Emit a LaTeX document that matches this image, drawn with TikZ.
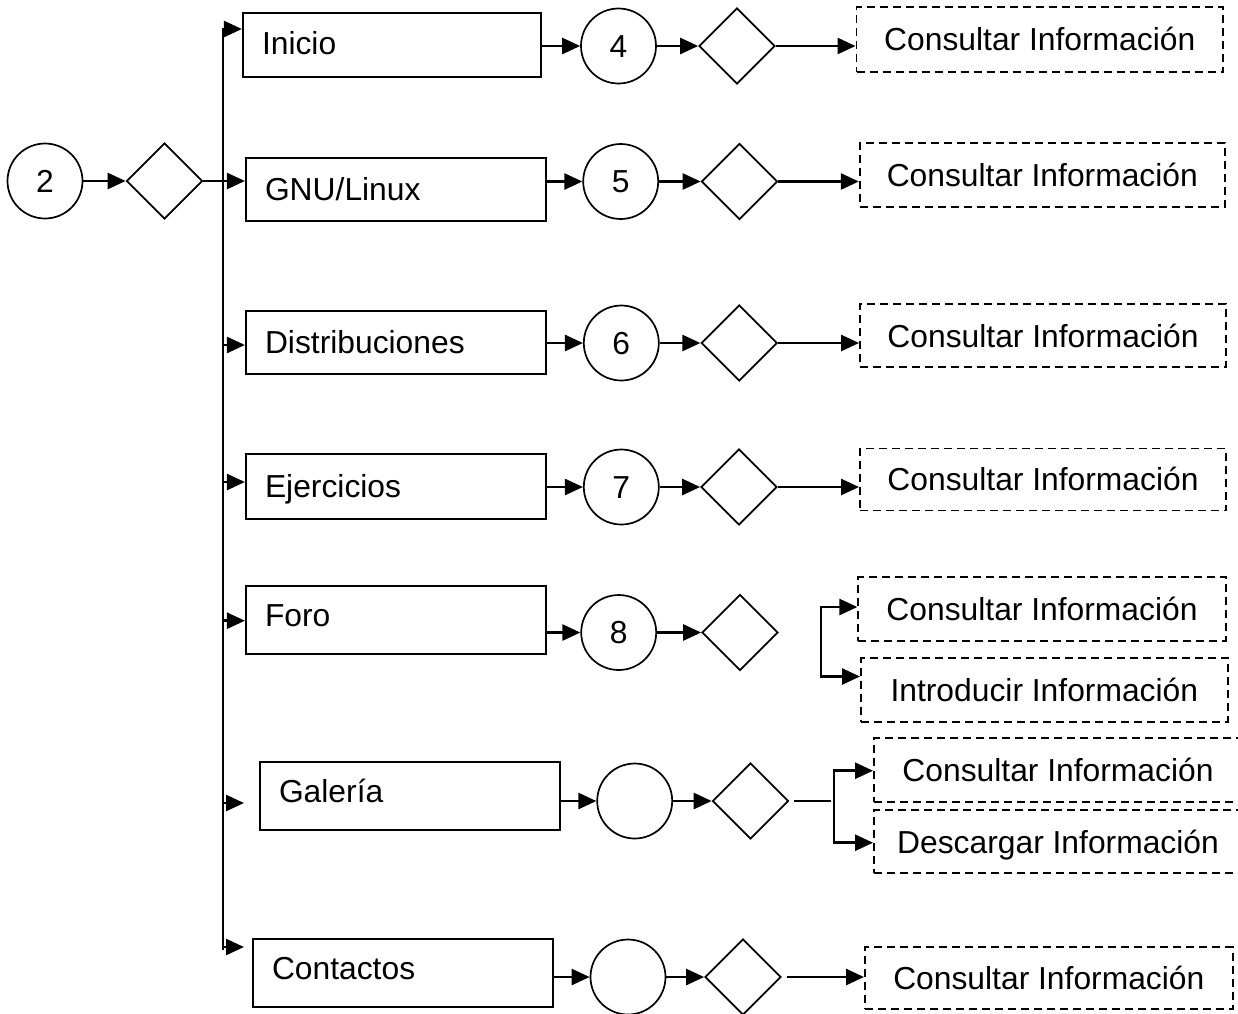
\documentclass[tikz,border=0pt]{standalone}
\usepackage{fontspec}
\setmainfont{Liberation Sans}
\usetikzlibrary{arrows.meta,shapes.geometric}

\begin{document}
\begin{tikzpicture}[x=1pt,y=-1pt,
  font=\fontsize{31.8}{38}\selectfont,
  menubox/.style={draw, rectangle, line width=2.2pt, minimum height=64pt,
    text width=262pt, align=left, inner xsep=19pt, inner ysep=0pt,
    text height=22.8pt, text depth=0pt},
  numcircle/.style={draw, circle, line width=1.7pt, minimum size=75pt,
    inner sep=0pt, text height=22.8pt, text depth=0pt},
  choice/.style={draw, diamond, line width=1.7pt, minimum width=76pt,
    minimum height=76pt, inner sep=0pt},
  infobox/.style={draw, rectangle, dash pattern=on 8pt off 5pt, line width=1.9pt,
    minimum width=366pt, minimum height=63pt, inner sep=0pt,
    text height=22.8pt, text depth=0pt},
  arr/.style={line width=2.6pt, -{Triangle[length=18pt,width=16pt]}},
  arrs/.style={line width=2.6pt,
    {Triangle[length=18pt,width=16pt]}-{Triangle[length=18pt,width=16pt]}},
  link/.style={line width=2.2pt}
]
\useasboundingbox (0,0) rectangle (1238,1013);

% entry point and first decision
\node[numcircle] (c2) at (45,181) {2};
\node[choice] (d0) at (164.5,181) {};
\draw[arr] (c2) -- (d0);

% menu entries
\node[menubox, text width=260pt, text depth=4pt] (inicio) at (392,45) {Inicio};
\node[menubox, minimum height=63pt] (gnu) at (396,189.5) {GNU/Linux};
\node[menubox, minimum height=63pt] (dist) at (396,342.5) {Distribuciones};
\node[menubox, minimum height=65pt] (ejer) at (396,486.5) {Ejercicios};
\node[menubox, minimum height=68pt, text depth=10pt] (foro) at (396,620) {Foro};
\node[menubox, minimum height=68pt, text depth=10pt] (gal) at (410,796) {Galería};
\node[menubox, minimum height=68pt, text depth=10pt] (cont) at (403,973) {Contactos};

% trunk with its branches
\coordinate (ttop) at (223,29);
\coordinate (tbot) at (223,950);
\draw[arr] (tbot) -- (ttop) -- (ttop -| inicio.west);
\draw[arr] (d0.east) -- (d0.east -| gnu.west);
\coordinate (t3) at (223,345);
\coordinate (t4) at (223,482);
\coordinate (t5) at (223,620.7);
\coordinate (t6) at (223,803);
\coordinate (g6) at (244,803);
\coordinate (t7) at (223,947);
\coordinate (g7) at (244,947);
\draw[arr] (t3) -- (t3 -| dist.west);
\draw[arr] (t4) -- (t4 -| ejer.west);
\draw[arr] (t5) -- (t5 -| foro.west);
\draw[arr] (t6) -- (g6);
\draw[arr] (t7) -- (g7);

% Inicio
\node[numcircle] (c4) at (618.5,46) {4};
\node[choice] (d1) at (737,46) {};
\node[infobox, minimum width=366.5pt, minimum height=65pt] (i1) at (1039.75,39.5) {Consultar Información};
\draw[arr] (inicio.east |- c4) -- (c4);
\draw[arr] (c4) -- (d1);
\draw[arr] (d1.east) -- (d1.east -| i1.west);

% GNU/Linux
\node[numcircle] (c5) at (620.7,181.5) {5};
\node[choice] (d2) at (739.5,181.5) {};
\node[infobox, minimum width=365pt, minimum height=64pt] (i2) at (1042.3,174.7) {Consultar Información};
\draw[arr] (gnu.east |- c5) -- (c5);
\draw[arr] (c5) -- (d2);
\draw[arr] (d2.east) -- (d2.east -| i2.west);

% Distribuciones
\node[numcircle] (c6) at (621.3,343) {6};
\node[choice] (d3) at (739.2,343) {};
\node[infobox] (i3) at (1043,335.7) {Consultar Información};
\draw[arr] (dist.east |- c6) -- (c6);
\draw[arr] (c6) -- (d3);
\draw[arr] (d3.east) -- (d3.east -| i3.west);

% Ejercicios
\node[numcircle] (c7) at (621.3,487) {7};
\node[choice] (d4) at (739,487) {};
\node[infobox, minimum height=62pt] (i4) at (1043,479.5) {Consultar Información};
\draw[arr] (ejer.east |- c7) -- (c7);
\draw[arr] (c7) -- (d4);
\draw[arr] (d4.east) -- (d4.east -| i4.west);

% Foro
\node[numcircle] (c8) at (618.7,632.5) {8};
\node[choice] (d5) at (740,632.5) {};
\node[infobox, minimum width=367.4pt, minimum height=63.4pt] (i5a) at (1042,609) {Consultar Información};
\node[infobox, minimum width=366.7pt, minimum height=63.4pt] (i5b) at (1044.3,690) {Introducir Información};
\draw[arr] (foro.east |- c8) -- (c8);
\draw[arr] (c8) -- (d5);
\coordinate (fa) at (821,607);
\coordinate (fb) at (821,676.5);
\draw[arrs] (fa -| i5a.west) -- (fa) -- (fb) -- (fb -| i5b.west);

% Galería
\node[numcircle] (cg) at (634.7,801) {};
\node[choice] (dg) at (750.5,801) {};
\node[infobox, minimum width=368pt, minimum height=63.4pt] (iga) at (1058,770) {Consultar Información};
\node[infobox, minimum width=368pt, minimum height=63.3pt] (igb) at (1058,841.7) {Descargar Información};
\draw[arr] (gal.east |- cg) -- (cg);
\draw[arr] (cg) -- (dg);
\coordinate (gj) at (831,801);
\draw[link, shorten <=5pt] (dg.east) -- (gj);
\coordinate (ga) at (834,770.7);
\coordinate (gb) at (834,842.7);
\draw[arrs] (ga -| iga.west) -- (ga) -- (gb) -- (gb -| igb.west);

% Contactos
\node[numcircle] (cc) at (628,977) {};
\node[choice] (dc) at (743,977) {};
\node[infobox, minimum width=367.7pt, minimum height=62pt] (ic) at (1048.8,978.3) {Consultar Información};
\draw[arr] (cont.east |- cc) -- (cc);
\draw[arr] (cc) -- (dc);
\draw[arr, shorten <=5pt] (dc.east) -- (dc.east -| ic.west);
\end{tikzpicture}
\end{document}
